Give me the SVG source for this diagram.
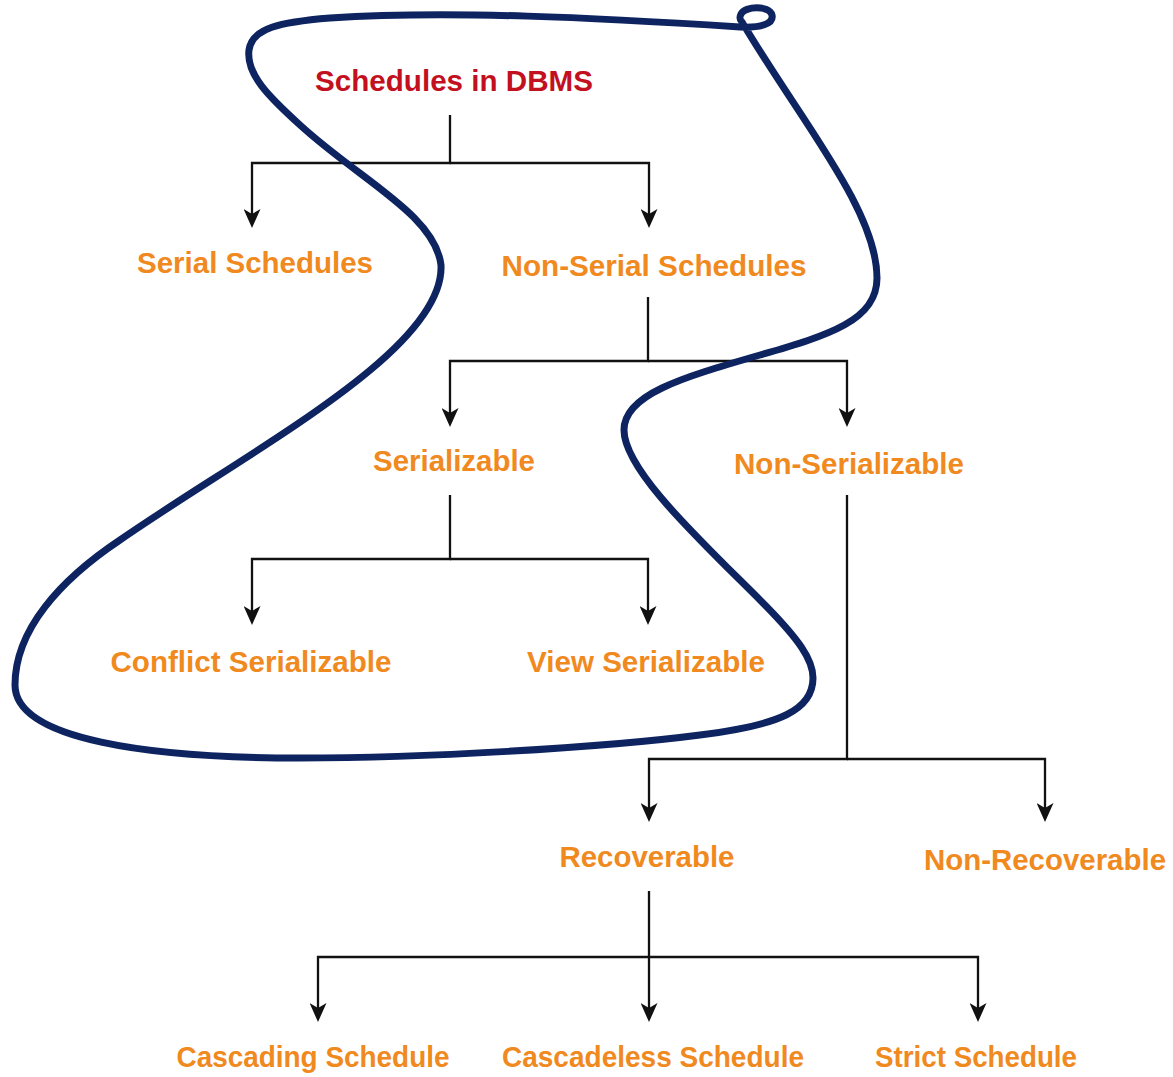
<svg xmlns="http://www.w3.org/2000/svg" width="1173" height="1077" viewBox="0 0 1173 1077">
<style>
.bg{fill:#ffffff}
.lbl{font-family:"Liberation Sans",Arial,sans-serif;font-weight:bold;font-size:29px;text-anchor:middle;fill:#F0891E}
.root{fill:#C3101E}
.conn{fill:none;stroke:#111111;stroke-width:2.3;marker-end:url(#arr)}
.loop{fill:none;stroke:#0E2461;stroke-width:7;stroke-linecap:round;stroke-linejoin:round}
</style>
<defs>
<marker id="arr" markerUnits="userSpaceOnUse" markerWidth="19" markerHeight="17" viewBox="0 0 19 17" refX="5" refY="8.5" orient="auto">
<path d="M0,0 L19,8.5 L0,17 L5,8.5 Z" fill="#111111"/>
</marker>
</defs>
<rect class="bg" x="0" y="0" width="1173" height="1077"/>

<g id="connectors">
<path class="conn" d="M450 115 V163 H252 V214"/>
<path class="conn" d="M450 163 H649 V214"/>
<path class="conn" d="M648 297 V361 H450 V413"/>
<path class="conn" d="M648 361 H847 V413"/>
<path class="conn" d="M450 495 V559 H252 V611"/>
<path class="conn" d="M450 559 H648 V611"/>
<path class="conn" d="M847 495 V759 H649 V808"/>
<path class="conn" d="M847 759 H1045 V808"/>
<path class="conn" d="M649 891 V1008"/>
<path class="conn" d="M649 957 H318 V1008"/>
<path class="conn" d="M649 957 H978 V1008"/>
</g>

<g id="node-root"><text class="lbl root" x="454" y="91" textLength="278" lengthAdjust="spacingAndGlyphs">Schedules in DBMS</text></g>
<g id="node-serial"><text class="lbl" x="255" y="273" textLength="236" lengthAdjust="spacingAndGlyphs">Serial Schedules</text></g>
<g id="node-nonserial"><text class="lbl" x="654" y="276" textLength="305" lengthAdjust="spacingAndGlyphs">Non-Serial Schedules</text></g>
<g id="node-serializable"><text class="lbl" x="454" y="471" textLength="162" lengthAdjust="spacingAndGlyphs">Serializable</text></g>
<g id="node-nonserializable"><text class="lbl" x="849" y="474" textLength="230" lengthAdjust="spacingAndGlyphs">Non-Serializable</text></g>
<g id="node-conflict"><text class="lbl" x="251" y="672" textLength="281" lengthAdjust="spacingAndGlyphs">Conflict Serializable</text></g>
<g id="node-view"><text class="lbl" x="646" y="672" textLength="238" lengthAdjust="spacingAndGlyphs">View Serializable</text></g>
<g id="node-recoverable"><text class="lbl" x="647" y="867" textLength="175" lengthAdjust="spacingAndGlyphs">Recoverable</text></g>
<g id="node-nonrecoverable"><text class="lbl" x="1045" y="870" textLength="242" lengthAdjust="spacingAndGlyphs">Non-Recoverable</text></g>
<g id="node-cascading"><text class="lbl" x="313" y="1067" textLength="273" lengthAdjust="spacingAndGlyphs">Cascading Schedule</text></g>
<g id="node-cascadeless"><text class="lbl" x="653" y="1067" textLength="302" lengthAdjust="spacingAndGlyphs">Cascadeless Schedule</text></g>
<g id="node-strict"><text class="lbl" x="976" y="1067" textLength="202" lengthAdjust="spacingAndGlyphs">Strict Schedule</text></g>

<g id="annotation">
<path class="loop" d="M742 22 C800 120 877 210 877 278 C877 320 830 335 760 355 C680 378 624 395 624 430 C624 470 700 540 760 600 C800 640 813 660 813 678 C813 710 780 725 700 735 C600 748 420 758 300 758 C150 758 15 740 15 685 C15 630 60 580 120 540 C250 450 445 350 441 265 C435 215 360 180 300 125 C268 96 246 74 249 50 C252 28 280 22 330 18 C450 10 600 18 740 27 C760 28 774 24 772 15 C769 5 745 6 741 14 C739 18 740 20 742 22"/>
</g>
</svg>
